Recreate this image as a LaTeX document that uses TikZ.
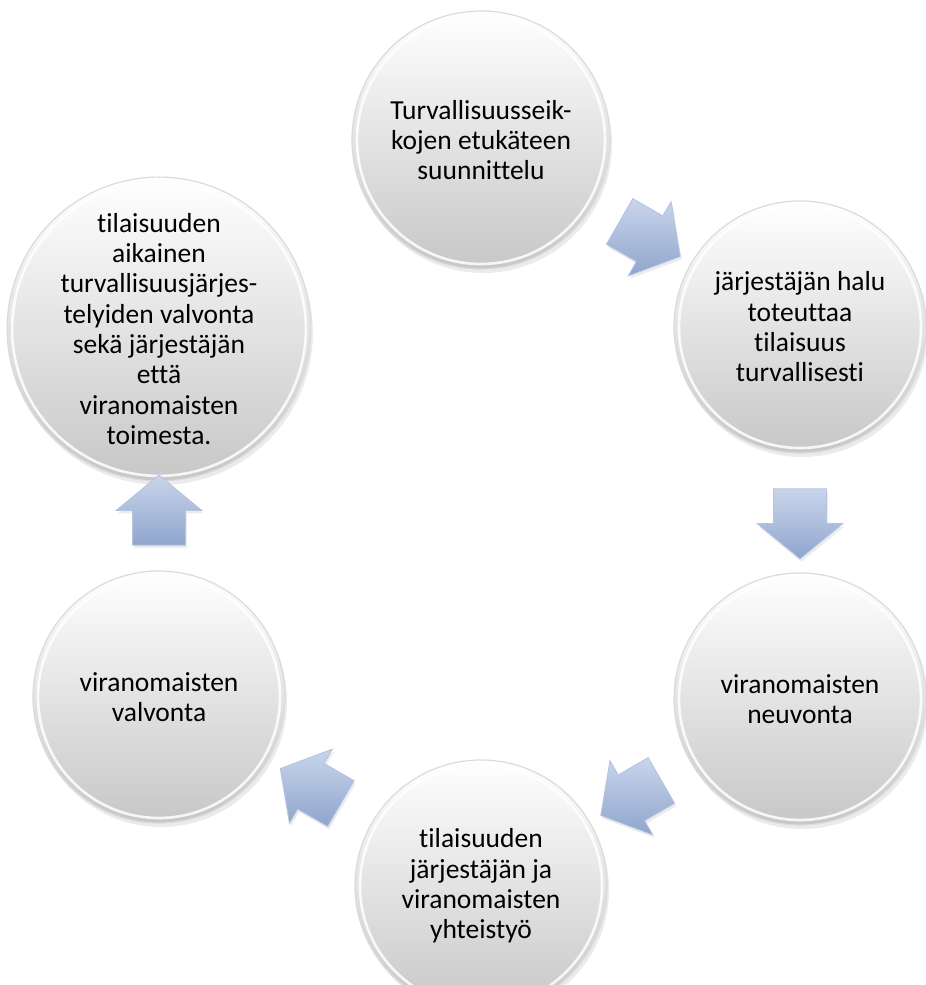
\documentclass[tikz,border=0pt]{standalone}
\usepackage{fontspec}
\setmainfont{Carlito}[Ligatures=NoCommon]
\usetikzlibrary{shapes.arrows,shadows,calc}
\definecolor{arrowlight}{HTML}{C9D5EB}
\definecolor{arrowdark}{HTML}{8FA5CD}
\definecolor{arrowedge}{HTML}{B4C3E0}
\tikzset{
  rim/.style={path picture={
      \draw[white, line width=2.6pt, opacity=0.85]
        let \p1=(path picture bounding box.north), \p2=(path picture bounding box.center),
            \n1={\y1-\y2-5pt} in (\p2) circle[radius=\n1];}},
  circ/.style={circle, minimum size=252pt, inner sep=0pt, align=center,
    font=\fontsize{27.5}{30.3}\selectfont, text=black,
    top color=white, bottom color=black!22, draw=black!14, line width=1.2pt,
    drop shadow={opacity=0.16, shadow xshift=2pt, shadow yshift=-4pt}, rim},
  bigcirc/.style={circ, minimum size=288pt},
  topcirc/.style={circ, minimum size=258pt},
  blockarrow/.style={single arrow, minimum height=70pt, inner xsep=0pt, inner ysep=26pt,
    single arrow head extend=16.5pt, single arrow tip angle=101,
    top color=arrowlight, bottom color=arrowdark, draw=arrowedge, line width=0.8pt,
    drop shadow={opacity=0.15, shadow xshift=1.5pt, shadow yshift=-3pt}}
}
\begin{document}
\begin{tikzpicture}[x=1pt,y=1pt]
\useasboundingbox (0,0) rectangle (926,985);
\clip (0,0) rectangle (926,985);
\node[topcirc] (c1) at (481,845) {Turvallisuusseik-\\kojen etukäteen\\suunnittelu};
\node[circ] (c2) at (800,658) {järjestäjän halu\\toteuttaa\\tilaisuus\\turvallisesti};
\node[circ] (c3) at (800,286) {viranomaisten\\neuvonta};
\node[circ] (c4) at (481,99) {tilaisuuden\\järjestäjän ja\\viranomaisten\\yhteistyö};
\node[circ] (c5) at (159,288) {viranomaisten\\valvonta};
\node[bigcirc] (c6) at (159,656) {tilaisuuden\\aikainen\\turvallisuusjärjes-\\telyiden valvonta\\sekä järjestäjän\\että\\viranomaisten\\toimesta.};
\node[blockarrow, rotate=-30] (a1) at ($(c1)!0.5!(c2)$) {};
\node[blockarrow, rotate=-90] (a2) at ($(c2)!0.5!(c3)$) {};
\node[blockarrow, rotate=-150] (a3) at ($(c3)!0.5!(c4)$) {};
\node[blockarrow, rotate=150] (a4) at ($(c4)!0.5!(c5)$) {};
\node[blockarrow, rotate=90] (a5) at ($(c5)!0.5!(c6)+(0,-8)$) {};
\end{tikzpicture}
\end{document}
